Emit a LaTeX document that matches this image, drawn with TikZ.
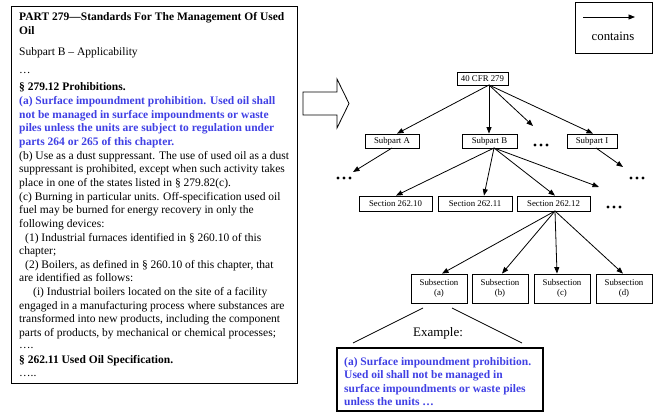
\documentclass[tikz,border=0pt]{standalone}
\usepackage{fontspec}
\setmainfont{Liberation Serif}
\usetikzlibrary{arrows.meta}
\definecolor{regblue}{RGB}{64,64,228}
\newcommand\bodyfont{\fontsize{11.5}{13.6}\selectfont}
\newcommand\boxfont{\fontsize{8.8}{10}\selectfont}
\begin{document}
\begin{tikzpicture}[x=1pt,y=-1pt,
  ln/.style={anchor=base west, inner sep=0pt, font=\bodyfont},
  bl/.style={ln, font=\bodyfont\bfseries},
  blu/.style={ln, font=\bodyfont\bfseries, text=regblue},
  tbox/.style={draw, line width=0.8pt, inner sep=0pt, font=\boxfont, align=center},
  con/.style={line width=0.8pt, -{Triangle[length=6.5pt,width=5pt]}},
  dot/.style={circle, fill, inner sep=0pt, minimum size=3.2pt}
]
\useasboundingbox (0,0) rectangle (653,414);

% --- regulation text panel
\node[draw, line width=1.3pt, minimum width=286pt, minimum height=377pt,
      anchor=north west, inner sep=0pt] (doc) at (11,6) {};
\node[bl]  (l1)  at (19,21)  {PART 279—Standards For The Management Of Used};
\node[bl]  (l2)  at (19,35)  {Oil};
\node[ln]  (l3)  at (19,56)  {Subpart B – Applicability};
\node[ln]  (l4)  at (19,74)  {…};
\node[bl]  (l5)  at (19,91)  {§ 279.12 Prohibitions.};
\node[blu] (l6)  at (19,104.6) {(a) Surface impoundment prohibition. Used oil shall};
\node[blu] (l7)  at (19,118.3) {not be managed in surface impoundments or waste};
\node[blu] (l8)  at (19,131.9) {piles unless the units are subject to regulation under};
\node[blu] (l9)  at (19,145.5) {parts 264 or 265 of this chapter.};
\node[ln]  (l10) at (19,159.2) {(b) Use as a dust suppressant. The use of used oil as a dust};
\node[ln]  (l11) at (19,172.8) {suppressant is prohibited, except when such activity takes};
\node[ln]  (l12) at (19,186.4) {place in one of the states listed in § 279.82(c).};
\node[ln]  (l13) at (19,200.1) {(c) Burning in particular units. Off-specification used oil};
\node[ln]  (l14) at (19,213.7) {fuel may be burned for energy recovery in only the};
\node[ln]  (l15) at (19,227.3) {following devices:};
\node[ln]  (l16) at (25,241.0) {(1) Industrial furnaces identified in § 260.10 of this};
\node[ln]  (l17) at (19,254.6) {chapter;};
\node[ln]  (l18) at (25,268.2) {(2) Boilers, as defined in § 260.10 of this chapter, that};
\node[ln]  (l19) at (19,281.9) {are identified as follows:};
\node[ln]  (l20) at (33,295.5) {(i) Industrial boilers located on the site of a facility};
\node[ln]  (l21) at (19,309.1) {engaged in a manufacturing process where substances are};
\node[ln]  (l22) at (19,322.8) {transformed into new products, including the component};
\node[ln]  (l23) at (19,336.4) {parts of products, by mechanical or chemical processes;};
\node[ln]  (l24) at (19,348)   {….};
\node[bl]  (l25) at (19,363)   {§ 262.11 Used Oil Specification.};
\node[ln]  (l26) at (19,376)   {…..};

% --- hollow block arrow
\draw[line width=0.8pt] (303,92) -- (337,92) -- (337,79) -- (349,103.5)
  -- (337,128) -- (337,115) -- (303,115) -- cycle;

% --- legend
\node[draw, line width=1pt, minimum width=77pt, minimum height=51pt,
      anchor=north west, inner sep=0pt] (legend) at (575,2) {};
\coordinate (la) at (583,17);
\coordinate (lb) at (635,17);
\draw[con] (la) -- (lb);
\node[font=\fontsize{12.8}{14}\selectfont, inner sep=0pt] (contains) at (613,36) {contains};

% --- hierarchy
\node[tbox, minimum width=51pt, minimum height=13pt] (root) at (482.5,78.5) {40 CFR 279};
\node[tbox, minimum width=54pt, minimum height=14pt] (subA) at (392,141) {Subpart A};
\node[tbox, minimum width=55pt, minimum height=14pt] (subB) at (489.5,141) {Subpart B};
\node[tbox, minimum width=50pt, minimum height=14pt] (subI) at (592,141) {Subpart I};
\node[tbox, minimum width=73pt, minimum height=15pt] (s10) at (395.5,203.5) {Section 262.10};
\node[tbox, minimum width=74pt, minimum height=15pt] (s11) at (475,203.5) {Section 262.11};
\node[tbox, minimum width=73pt, minimum height=15pt] (s12) at (553.5,203.5) {Section 262.12};
\node[tbox, minimum width=56pt, minimum height=29pt] (ssa) at (439,288.5) {Subsection\\(a)};
\node[tbox, minimum width=56pt, minimum height=29pt] (ssb) at (500,288.5) {Subsection\\(b)};
\node[tbox, minimum width=56pt, minimum height=29pt] (ssc) at (562,288.5) {Subsection\\(c)};
\node[tbox, minimum width=56pt, minimum height=29pt] (ssd) at (624,288.5) {Subsection\\(d)};

% ellipsis markers for omitted siblings
\foreach \nm/\cx/\cy in {dB/541/145, dA/344/178, dI/637/178, dS/614/207}{
  \node[inner sep=0pt, minimum width=18pt, minimum height=4pt] (\nm) at (\cx,\cy) {};
  \node[dot] at (\cx-6,\cy) {};
  \node[dot] at (\cx,\cy) {};
  \node[dot] at (\cx+6,\cy) {};
}

% connector end points
\coordinate (rootout) at (489,85);
\coordinate (subAout) at (392,148);
\coordinate (subBout) at (494,148);
\coordinate (subIout) at (596,148);
\coordinate (s12out) at (555,211);
\coordinate (tipB) at (533,126);
\coordinate (tipA) at (353,172);
\coordinate (tipS) at (599,187);
\coordinate (tipI) at (623,167);

\draw[con] (rootout) -- (subA.north -| 397,0);
\draw[con] (rootout) -- (subB.north -| rootout);
\draw[con] (rootout) -- (tipB);
\draw[con] (rootout) -- (subI.north -| 593,0);
\draw[con] (subAout) -- (tipA);
\draw[con] (subBout) -- (s10.north -| 396,0);
\draw[con] (subBout) -- (s11.north -| 484,0);
\draw[con] (subBout) -- (s12.north -| s12out);
\draw[con] (subBout) -- (tipS);
\draw[con] (subIout) -- (tipI);
\draw[con] (s12out) -- (ssa.north -| 442,0);
\draw[con] (s12out) -- (ssb.north -| 502,0);
\draw[con] (s12out) -- (ssc.north -| 557,0);
\draw[con] (s12out) -- (ssd.north -| 623,0);

% --- example callout
\node[draw, line width=1.3pt, minimum width=206pt, minimum height=63pt, inner sep=0pt] (ex) at (440,379.5) {};
\node[blu] (e1) at (344,365) {(a) Surface impoundment prohibition.};
\node[blu] (e2) at (344,378.6) {Used oil shall not be managed in};
\node[blu] (e3) at (344,392.2) {surface impoundments or waste piles};
\node[blu] (e4) at (344,405.8) {unless the units …};
\node[font=\fontsize{13}{15}\selectfont, inner sep=0pt] (exlabel) at (438,333) {Example:};
\coordinate (fanL0) at (423,308);
\coordinate (fanL1) at (353,343);
\coordinate (fanR0) at (452,308);
\coordinate (fanR1) at (522,343);
\draw[line width=0.8pt] (fanL0) -- (fanL1);
\draw[line width=0.8pt] (fanR0) -- (fanR1);
\end{tikzpicture}
\end{document}
